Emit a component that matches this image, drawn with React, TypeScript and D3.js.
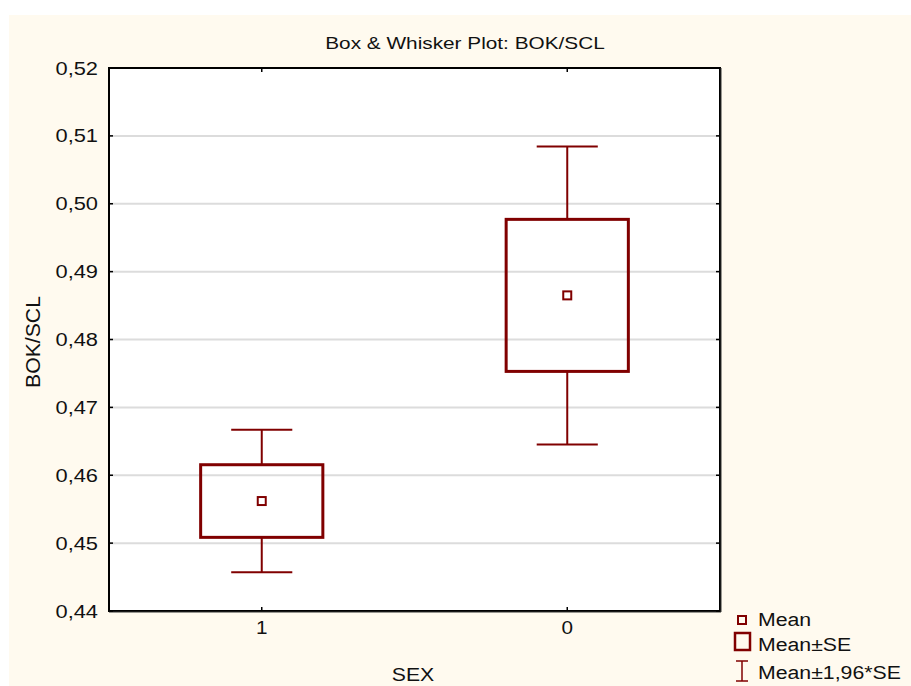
import React from "react";
import * as d3 from "d3";

// Group labels and summary statistics for BOK/SCL by SEX
const categories: string[] = ["1", "0"];
const means: number[] = [0.4562, 0.4865];
const stdErrors: number[] = [0.00535, 0.0112];
const yTicks: number[] = [0.44, 0.45, 0.46, 0.47, 0.48, 0.49, 0.5, 0.51, 0.52];
const legendLabels: string[] = ["Mean", "Mean±SE", "Mean±1,96*SE"];

const W = 911;
const H = 686;
const plot = { left: 109, right: 720, top: 68, bottom: 611 };
const maroon = "#800000";
const font = "Arial, 'Liberation Sans', sans-serif";

const fmt = (v: number) => v.toFixed(2).replace(".", ",");

// Text drawn with a slightly widened face
function WideText(props: {
  x: number;
  y: number;
  sx: number;
  size: number;
  anchor?: string;
  rotate?: number;
  children: React.ReactNode;
}) {
  const { x, y, sx, size, anchor = "start", rotate = 0, children } = props;
  return (
    <text
      transform={`translate(${x},${y}) rotate(${rotate}) scale(${sx},1)`}
      textAnchor={anchor}
      fontSize={size}
      fill="#111"
    >
      {children}
    </text>
  );
}

export default function App() {
  const x = d3
    .scalePoint<string>()
    .domain(categories)
    .range([plot.left, plot.right])
    .padding(0.5);
  const y = d3.scaleLinear().domain([0.44, 0.52]).range([plot.bottom, plot.top]);
  const step = x.step();
  const boxW = step * 0.4;
  const capW = boxW / 2;

  return (
    <svg
      width={W}
      height={H}
      style={{ position: "absolute", left: 0, top: 0 }}
      fontFamily={font}
    >
      <rect x={0} y={0} width={W} height={H} fill="#ffffff" />
      <rect x={9} y={15} width={W - 9} height={H - 15} fill="#fffaef" />

      {/* plot area */}
      <rect
        x={plot.left}
        y={plot.top}
        width={plot.right - plot.left}
        height={plot.bottom - plot.top}
        fill="#ffffff"
      />
      {yTicks
        .filter((t) => t > 0.44 && t < 0.52)
        .map((t) => (
          <line
            key={"g" + t}
            x1={plot.left}
            x2={plot.right}
            y1={y(t)}
            y2={y(t)}
            stroke="#dcdcdc"
            strokeWidth={2}
          />
        ))}

      {/* boxes and whiskers */}
      {categories.map((c, i) => {
        const cx = x(c)!;
        const m = means[i];
        const se = stdErrors[i];
        const lo = m - 1.96 * se;
        const hi = m + 1.96 * se;
        return (
          <g key={c}>
            <line x1={cx} x2={cx} y1={y(hi)} y2={y(m + se)} stroke={maroon} strokeWidth={2} />
            <line x1={cx} x2={cx} y1={y(m - se)} y2={y(lo)} stroke={maroon} strokeWidth={2} />
            <line x1={cx - capW / 2} x2={cx + capW / 2} y1={y(hi)} y2={y(hi)} stroke={maroon} strokeWidth={2} />
            <line x1={cx - capW / 2} x2={cx + capW / 2} y1={y(lo)} y2={y(lo)} stroke={maroon} strokeWidth={2} />
            <rect
              x={cx - boxW / 2}
              y={y(m + se)}
              width={boxW}
              height={y(m - se) - y(m + se)}
              fill="none"
              stroke={maroon}
              strokeWidth={3}
            />
            <rect x={cx - 4} y={y(m) - 4} width={8} height={8} fill="#ffffff" stroke={maroon} strokeWidth={2} />
          </g>
        );
      })}

      {/* frame and ticks */}
      <rect
        x={plot.left}
        y={plot.top}
        width={plot.right - plot.left}
        height={plot.bottom - plot.top}
        fill="none"
        stroke="#000"
        strokeWidth={2}
      />
      <line x1={plot.left} x2={plot.right + 1} y1={plot.bottom + 1} y2={plot.bottom + 1} stroke="#333" strokeWidth={1} />
      <line x1={plot.right + 1} x2={plot.right + 1} y1={plot.top} y2={plot.bottom + 1} stroke="#333" strokeWidth={1} />
      {yTicks.map((t) => (
        <g key={"t" + t}>
          <line x1={plot.left} x2={plot.left + 4} y1={y(t)} y2={y(t)} stroke="#000" strokeWidth={1.5} />
          <line x1={plot.right - 4} x2={plot.right} y1={y(t)} y2={y(t)} stroke="#000" strokeWidth={1.5} />
          <WideText x={98} y={y(t) + 6.5} sx={1.15} size={19} anchor="end">
            {fmt(t)}
          </WideText>
        </g>
      ))}
      {categories.map((c) => (
        <g key={"x" + c}>
          <line x1={x(c)!} x2={x(c)!} y1={plot.bottom} y2={plot.bottom - 4} stroke="#000" strokeWidth={1.5} />
          <line x1={x(c)!} x2={x(c)!} y1={plot.top} y2={plot.top + 4} stroke="#000" strokeWidth={1.5} />
          <WideText x={x(c)!} y={634} sx={1.15} size={18} anchor="middle">
            {c}
          </WideText>
        </g>
      ))}

      {/* titles */}
      <WideText x={465} y={49} sx={1.3} size={16} anchor="middle">
        Box &amp; Whisker Plot: BOK/SCL
      </WideText>
      <WideText x={413} y={681} sx={1.18} size={18} anchor="middle">
        SEX
      </WideText>
      <WideText x={40} y={342} sx={1.06} size={20} anchor="middle" rotate={-90}>
        BOK/SCL
      </WideText>

      {/* legend */}
      <g>
        <rect x={738} y={616} width={8} height={8} fill="none" stroke={maroon} strokeWidth={2} />
        <rect x={735} y={633} width={15} height={17} fill="none" stroke={maroon} strokeWidth={2.5} />
        <line x1={742} x2={742} y1={661} y2={681} stroke={maroon} strokeWidth={1.5} />
        <line x1={736} x2={748} y1={661} y2={661} stroke={maroon} strokeWidth={1.5} />
        <line x1={736} x2={748} y1={681} y2={681} stroke={maroon} strokeWidth={1.5} />
        {legendLabels.map((l, i) => (
          <WideText key={l} x={758} y={[626, 651, 679][i]} sx={1.12} size={19}>
            {l}
          </WideText>
        ))}
      </g>
    </svg>
  );
}
